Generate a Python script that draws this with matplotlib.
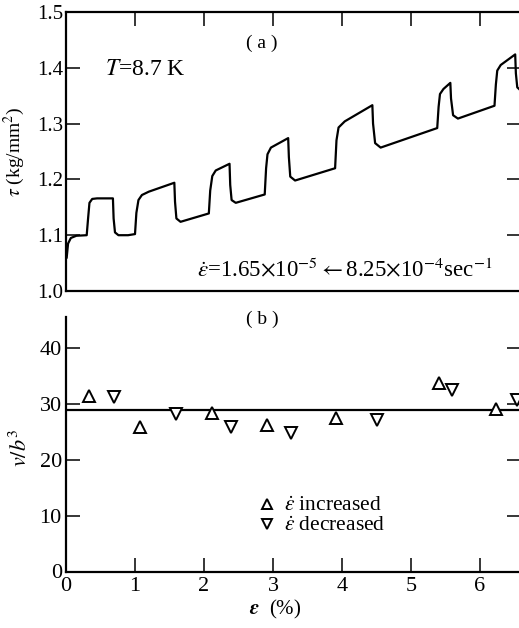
import matplotlib
matplotlib.use('Agg')
import matplotlib.pyplot as plt

plt.rcParams['font.family'] = 'serif'
plt.rcParams['font.serif'] = ['Liberation Serif', 'DejaVu Serif']
plt.rcParams['mathtext.fontset'] = 'stix'

# (a) stress-strain curve with strain-rate changes
strain = [0.01, 0.03, 0.07, 0.15, 0.30,
          0.32, 0.34, 0.38, 0.45, 0.68,
          0.69, 0.71, 0.76, 0.90, 1.00,
          1.02, 1.05, 1.10, 1.20, 1.57,
          1.58, 1.60, 1.66, 2.07,
          2.09, 2.12, 2.17, 2.37,
          2.38, 2.40, 2.46, 2.88,
          2.90, 2.92, 2.97, 3.22,
          3.23, 3.25, 3.32, 3.90,
          3.92, 3.95, 4.04, 4.44,
          4.45, 4.48, 4.56, 5.38,
          5.40, 5.42, 5.47, 5.57,
          5.58, 5.61, 5.68, 6.21,
          6.23, 6.25, 6.30, 6.51,
          6.52, 6.54, 6.60]
stress = [1.060, 1.085, 1.095, 1.099, 1.100,
          1.130, 1.158, 1.165, 1.166, 1.166,
          1.130, 1.105, 1.100, 1.100, 1.102,
          1.140, 1.163, 1.172, 1.178, 1.194,
          1.160, 1.130, 1.124, 1.139,
          1.180, 1.206, 1.216, 1.228,
          1.190, 1.163, 1.158, 1.173,
          1.220, 1.245, 1.257, 1.274,
          1.240, 1.205, 1.198, 1.220,
          1.270, 1.293, 1.304, 1.333,
          1.300, 1.265, 1.257, 1.292,
          1.330, 1.353, 1.362, 1.373,
          1.345, 1.315, 1.309, 1.332,
          1.370, 1.395, 1.405, 1.424,
          1.390, 1.365, 1.358]

# (b) activation volume
inc_x = [0.34, 1.07, 2.11, 2.91, 3.91, 5.40, 6.23]
inc_y = [31.4, 25.9, 28.3, 26.2, 27.5, 33.7, 29.0]
dec_x = [0.70, 1.59, 2.39, 3.26, 4.50, 5.60, 6.53]
dec_y = [31.2, 28.2, 25.8, 24.8, 27.0, 32.5, 30.7]
mean_x = [0.03, 6.6]
mean_y = [28.8, 28.8]

fig = plt.figure(figsize=(5.19, 6.28), dpi=100)
W, H = 519.0, 628.0
ax1 = fig.add_axes([66 / W, 1 - 291 / H, 455.4 / W, 279 / H])
ax2 = fig.add_axes([66 / W, 1 - 571.5 / H, 455.4 / W, 254.5 / H])

for ax in (ax1, ax2):
    for s in ax.spines.values():
        s.set_linewidth(1.6)
    ax.tick_params(direction='in', length=10, width=1.1, pad=2)

# top panel
ax1.plot(strain, stress, color='black', lw=1.6)
ax1.set_xlim(0, 6.6)
ax1.set_ylim(1.0, 1.5)
ax1.set_yticks([1.0, 1.1, 1.2, 1.3, 1.4, 1.5])
ax1.set_yticklabels(['1.0', '1.1', '1.2', '1.3', '1.4', '1.5'])
ax1.set_xticks([0, 1, 2, 3, 4, 5, 6])
ax1.tick_params(axis='x', top=True, bottom=False, labelbottom=False)
ax1.tick_params(axis='y', left=True, right=True, labelsize=15)
ax1.set_ylabel(r'$\tau$ (kg/mm$^2$)', fontsize=14)
ax1.yaxis.set_label_coords(-0.085, 0.5)
ax1.text(0.57, 1.397, r'$T$=8.7 K', fontsize=17, va='center')
ax1.text(2.84, 1.443, '( a )', fontsize=14, ha='center', va='center')
ax1.text(1.9, 1.0375,
         r'$\dot{\epsilon}$=1.65$\times$10$^{-5}$$\leftarrow$8.25$\times$10$^{-4}$sec$^{-1}$',
         fontsize=16.5, va='center')

# bottom panel
ax2.plot(mean_x, mean_y, color='black', lw=1.6, zorder=1)
inc = ax2.plot(inc_x, inc_y, ls='none', marker='^', ms=8.5, mfc='white', mec='black',
               mew=1.4, zorder=3, label=r'$\dot{\epsilon}$ increased')[0]
dec = ax2.plot(dec_x, dec_y, ls='none', marker='v', ms=8.5, mfc='white', mec='black',
               mew=1.4, zorder=3, label=r'$\dot{\epsilon}$ decreased')[0]
ax2.set_xlim(0, 6.6)
ax2.set_ylim(0, 45.5)
ax2.spines['top'].set_visible(False)
ax2.set_xticks([0, 1, 2, 3, 4, 5, 6])
ax2.set_yticks([0, 10, 20, 30, 40])
ax2.tick_params(axis='y', left=True, right=True, labelsize=16, pad=3)
ax2.tick_params(axis='x', labelsize=16, pad=4)
ax2.set_ylabel(r'$v/b^3$', fontsize=16)
ax2.yaxis.set_label_coords(-0.075, 0.485)
ax2.set_xlabel(r'$\boldsymbol{\epsilon}$  (%)', fontsize=15)
ax2.xaxis.set_label_coords(0.46, -0.105)
ax2.text(2.84, 45.0, '( b )', fontsize=14, ha='center', va='center', clip_on=False)
ax2.legend(handles=[inc, dec], loc='upper left', bbox_to_anchor=(0.405, 0.33),
           frameon=False, fontsize=15.5, handlelength=0.7, handletextpad=0.45,
           labelspacing=0.0, borderaxespad=0, markerscale=0.8)

fig.savefig('out.png', dpi=100)
